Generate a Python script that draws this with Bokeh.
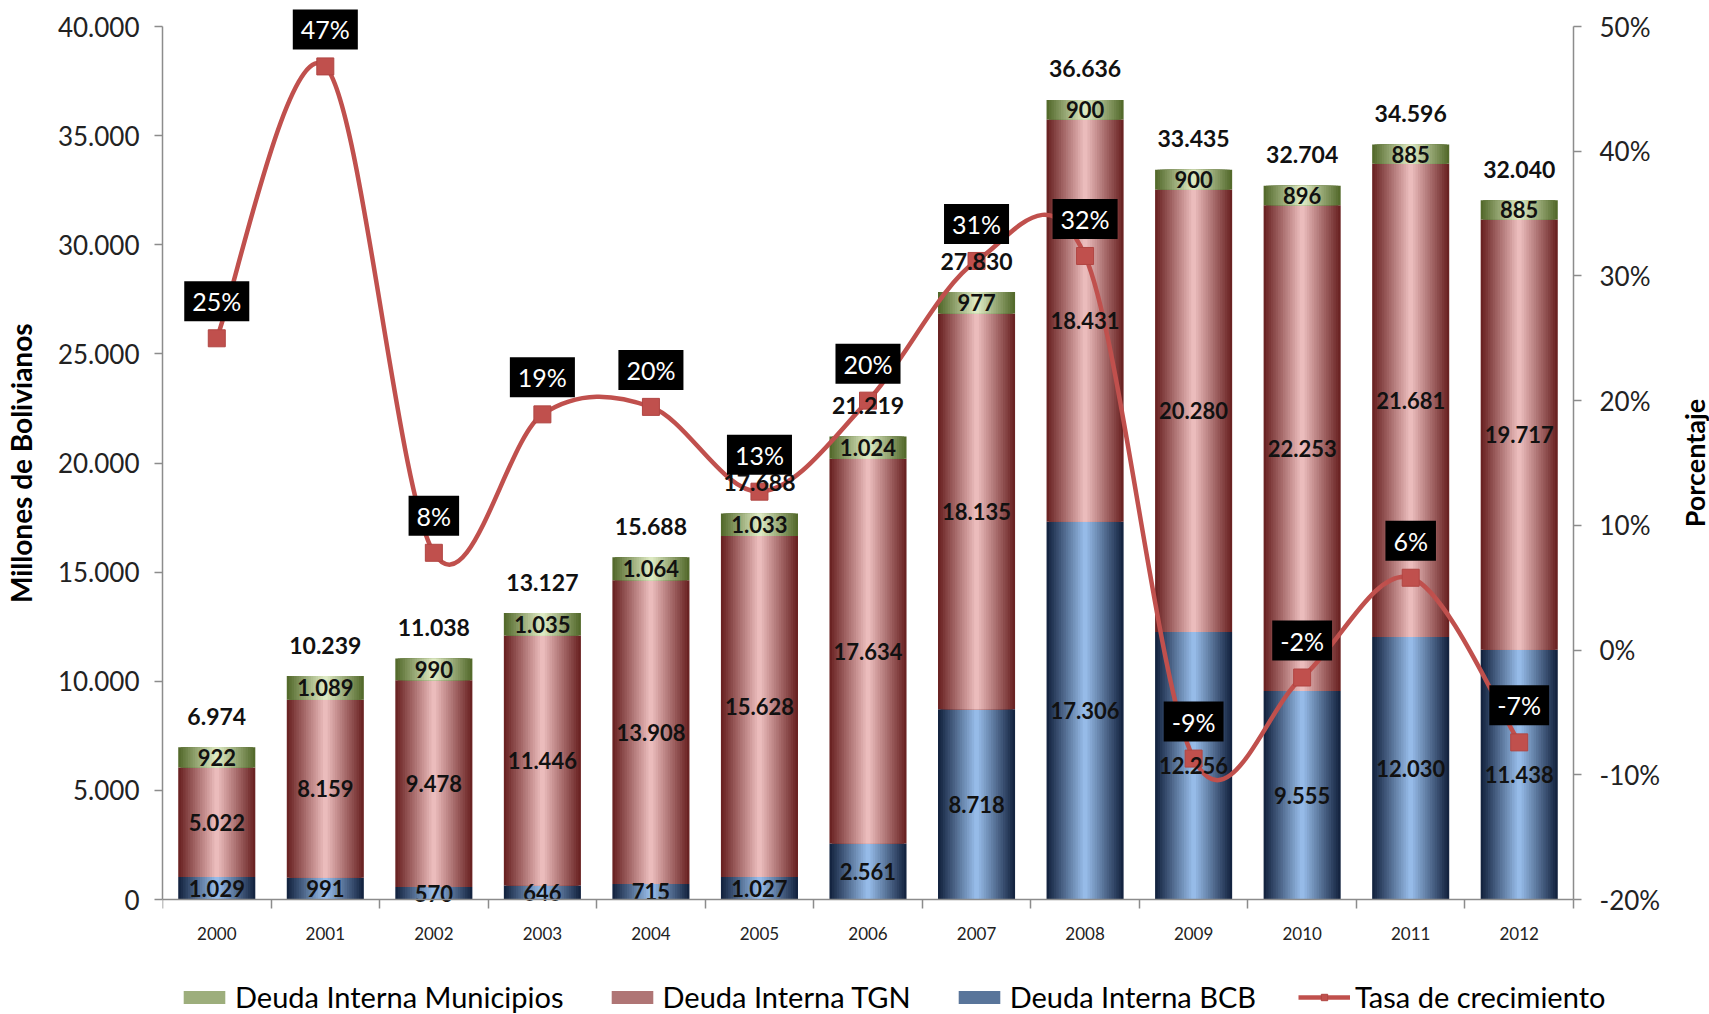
import numpy as np
from bokeh.plotting import figure
from bokeh.models import (Range1d, LinearAxis, FixedTicker, ColumnDataSource,
                          Legend, LegendItem)
from bokeh.embed import file_html
from bokeh.resources import INLINE
from bokeh.core.properties import value

# ---------------- data ----------------
years = ["2000", "2001", "2002", "2003", "2004", "2005", "2006",
         "2007", "2008", "2009", "2010", "2011", "2012"]
deuda_bcb = [1029, 991, 570, 646, 715, 1027, 2561, 8718, 17306, 12256, 9555, 12030, 11438]
deuda_tgn = [5022, 8159, 9478, 11446, 13908, 15628, 17634, 18135, 18431, 20280, 22253, 21681, 19717]
deuda_mun = [922, 1089, 990, 1035, 1064, 1033, 1024, 977, 900, 900, 896, 885, 885]
totales = [6974, 10239, 11038, 13127, 15688, 17688, 21219, 27830, 36636, 33435, 32704, 34596, 32040]
tasa = [25.0, 46.8, 7.8, 18.9, 19.5, 12.7, 20.0, 31.2, 31.6, -8.7, -2.2, 5.8, -7.4]

y_ticks = [0, 5000, 10000, 15000, 20000, 25000, 30000, 35000, 40000]
y_tick_labels = ["0", "5.000", "10.000", "15.000", "20.000", "25.000", "30.000", "35.000", "40.000"]
pct_ticks = [-20, -10, 0, 10, 20, 30, 40, 50]
pct_tick_labels = ["-20%", "-10%", "0%", "10%", "20%", "30%", "40%", "50%"]

name_mun = "Deuda Interna Municipios"
name_tgn = "Deuda Interna TGN"
name_bcb = "Deuda Interna BCB"
name_tasa = "Tasa de crecimiento"
y_title = "Millones de Bolivianos"
y2_title = "Porcentaje"

# ---------------- helpers ----------------
def fmt(v):
    return f"{v:,}".replace(",", ".")

def mix(c1, c2, t):
    a = [int(c1[i:i + 2], 16) for i in (1, 3, 5)]
    b = [int(c2[i:i + 2], 16) for i in (1, 3, 5)]
    return "#%02x%02x%02x" % tuple(int(round(a[i] + (b[i] - a[i]) * t)) for i in range(3))

FONT = "Lato"
AXIS_COL = "#8c8c8c"
LINE_COL = "#c0504d"
BAR_W = 0.71
N_LAYERS = 16
NBSP = "\u00a0"

# ---------------- geometry (pixels) ----------------
FIG_W = 1709
LEFT_PX = 161          # space left of the category area
CAT_AREA_PX = 1411     # width of the 13 categories
AXIS_PX = 873          # 0..40000 vertical span
HEAD_PX = 26
FOOT_PX = 115
FRAME_W = FIG_W - LEFT_PX
FRAME_H = HEAD_PX + AXIS_PX + FOOT_PX
Y_MIN, Y_MAX = 0, 40000
P_MIN, P_MAX = -20, 50
ky = (Y_MAX - Y_MIN) / AXIS_PX
kp = (P_MAX - P_MIN) / AXIS_PX
ncat = len(years)
kx = ncat / CAT_AREA_PX
X_LO, X_HI = -0.5, ncat - 0.5

x = list(range(ncat))
bcb = np.array(deuda_bcb)
tgn = np.array(deuda_tgn)
mun = np.array(deuda_mun)

src = ColumnDataSource(dict(
    x=x,
    b0=np.zeros(ncat), t0=bcb,
    b1=bcb, t1=bcb + tgn,
    b2=bcb + tgn, t2=bcb + tgn + mun,
    m0=bcb / 2, m1=bcb + tgn / 2, m2=bcb + tgn + mun / 2,
    l0=[fmt(v) for v in deuda_bcb],
    l1=[fmt(v) for v in deuda_tgn],
    l2=[fmt(v) for v in deuda_mun],
    tot=totales, ltot=[fmt(v) for v in totales],
    tasa=tasa, ltasa=[f"{round(v):d}%" for v in tasa],
))

p = figure(frame_width=FRAME_W, frame_height=FRAME_H,
           x_range=Range1d(X_LO, X_LO + FRAME_W * kx),
           y_range=Range1d(Y_MIN - FOOT_PX * ky, Y_MAX + HEAD_PX * ky),
           output_backend="svg", toolbar_location=None,
           min_border_left=LEFT_PX, min_border_right=0,
           min_border_top=0, min_border_bottom=0)
p.extra_y_ranges = {"pct": Range1d(P_MIN - FOOT_PX * kp, P_MAX + HEAD_PX * kp)}
p.outline_line_color = None
p.xgrid.grid_line_color = None
p.ygrid.grid_line_color = None
p.background_fill_color = "white"
p.border_fill_color = "white"

# ---------------- gradient stacked bars ----------------
series = [
    ("b0", "t0", "#142440", "#96bbe8"),   # BCB
    ("b1", "t1", "#6a2323", "#ebbcbc"),   # TGN
    ("b2", "t2", "#546a2c", "#dde9c2"),   # Municipios
]
legend_swatch = []
for bcol, tcol, dark, light in series:
    sw = None
    for k in range(N_LAYERS):
        w = BAR_W * (1 - k / N_LAYERS)
        c = mix(dark, light, k / (N_LAYERS - 1))
        r = p.vbar(x="x", width=w, bottom=bcol, top=tcol, source=src,
                   fill_color=c, line_color=None)
        if k == N_LAYERS // 2:
            sw = r
    legend_swatch.append(sw)

# ---------------- growth line (smoothed) ----------------
P = [(float(x[i]), float(tasa[i])) for i in range(ncat)]
x0, y0, x1, y1, cx0, cy0, cx1, cy1 = [], [], [], [], [], [], [], []
for i in range(ncat - 1):
    pm = P[i - 1] if i > 0 else P[i]
    pa = P[i]
    pb = P[i + 1]
    pn = P[i + 2] if i + 2 < ncat else P[i + 1]
    x0.append(pa[0]); y0.append(pa[1])
    x1.append(pb[0]); y1.append(pb[1])
    cx0.append(pa[0] + (pb[0] - pm[0]) / 6); cy0.append(pa[1] + (pb[1] - pm[1]) / 6)
    cx1.append(pb[0] - (pn[0] - pa[0]) / 6); cy1.append(pb[1] - (pn[1] - pa[1]) / 6)
bz = ColumnDataSource(dict(x0=x0, y0=y0, x1=x1, y1=y1, cx0=cx0, cy0=cy0, cx1=cx1, cy1=cy1))
p.bezier(x0="x0", y0="y0", x1="x1", y1="y1", cx0="cx0", cy0="cy0", cx1="cx1", cy1="cy1",
         source=bz, y_range_name="pct", line_color=LINE_COL, line_width=4.5)
sq = p.scatter(x="x", y="tasa", source=src, y_range_name="pct", marker="square",
               size=17, fill_color=LINE_COL, line_color="#b04542", line_width=1)
# legend stand-in for the curve (a single undefined point draws nothing on the chart)
line_proxy = p.line(x=[np.nan], y=[np.nan], line_color=LINE_COL, line_width=4.5)

# ---------------- labels ----------------
for mcol, lcol in (("m0", "l0"), ("m1", "l1"), ("m2", "l2")):
    p.text(x="x", y=mcol, text=lcol, source=src, text_align="center",
           text_baseline="middle", text_font=value(FONT), text_font_style="bold",
           text_font_size="22px", text_color="#111111")
p.text(x="x", y="tot", text="ltot", source=src, text_align="center",
       text_baseline="middle", y_offset=-31, text_font=value(FONT),
       text_font_style="bold", text_font_size="23px", text_color="#111111")
p.text(x="x", y="tasa", text="ltasa", source=src, y_range_name="pct",
       text_align="center", text_baseline="middle", y_offset=-37,
       text_font=value(FONT), text_font_size="25px", text_color="white",
       background_fill_color="black", padding=(8, 5))

# ---------------- axes ----------------
xa = p.xaxis[0]
xa.fixed_location = Y_MIN
xa.bounds = (X_LO, X_HI)
xa.ticker = FixedTicker(ticks=x, minor_ticks=[i - 0.5 for i in range(ncat + 1)])
xa.major_label_overrides = {i: years[i] for i in x}
xa.major_tick_line_color = None
xa.major_tick_out = 9
xa.major_tick_in = 0
xa.minor_tick_out = 9
xa.minor_tick_in = 0
xa.minor_tick_line_color = AXIS_COL
xa.minor_tick_line_width = 1.5
xa.axis_line_color = AXIS_COL
xa.axis_line_width = 1.5
xa.major_label_standoff = 18
xa.major_label_text_font = FONT
xa.major_label_text_font_size = "17px"
xa.major_label_text_color = "#222222"

ya = p.yaxis[0]
ya.ticker = FixedTicker(ticks=y_ticks, minor_ticks=[])
ya.bounds = (Y_MIN, Y_MAX)
ya.major_label_overrides = {t: l for t, l in zip(y_ticks, y_tick_labels)}
ya.major_tick_out = 8
ya.major_tick_in = 0
ya.major_tick_line_color = AXIS_COL
ya.major_tick_line_width = 1.5
ya.axis_line_color = AXIS_COL
ya.axis_line_width = 1.5
ya.major_label_standoff = 15
ya.major_label_text_font = FONT
ya.major_label_text_font_size = "26px"
ya.major_label_text_color = "#222222"
# leading no-break spaces keep the centred title over the 0..40.000 span
ya.axis_label = NBSP * 13 + y_title
ya.axis_label_text_font = FONT
ya.axis_label_text_font_style = "bold"
ya.axis_label_text_font_size = "28px"
ya.axis_label_text_color = "#000000"
ya.axis_label_standoff = 17

ra = LinearAxis(y_range_name="pct", ticker=FixedTicker(ticks=pct_ticks, minor_ticks=[]))
ra.fixed_location = X_HI
ra.bounds = (P_MIN, P_MAX)
ra.major_label_overrides = {t: l for t, l in zip(pct_ticks, pct_tick_labels)}
ra.major_tick_out = 8
ra.major_tick_in = 0
ra.major_tick_line_color = AXIS_COL
ra.major_tick_line_width = 1.5
ra.axis_line_color = AXIS_COL
ra.axis_line_width = 1.5
ra.major_label_standoff = 18
ra.major_label_text_font = FONT
ra.major_label_text_font_size = "26px"
ra.major_label_text_color = "#222222"
p.add_layout(ra, "right")

# right axis title, reading bottom to top, centred on the -20%..50% span
p.text(x=[X_HI + 121 * kx], y=[(P_MIN + P_MAX) / 2], text=[y2_title],
       y_range_name="pct", angle=np.pi / 2, text_align="center",
       text_baseline="middle", text_font=value(FONT), text_font_style="bold",
       text_font_size="27px", text_color="#000000")

# ---------------- legend ----------------
legend = Legend(items=[
    LegendItem(label=name_mun, renderers=[legend_swatch[2]]),
    LegendItem(label=name_tgn, renderers=[legend_swatch[1]]),
    LegendItem(label=name_bcb, renderers=[legend_swatch[0]]),
    LegendItem(label=name_tasa, renderers=[line_proxy, sq]),
], orientation="horizontal", location=(16, 0))
legend.spacing = 42
legend.label_standoff = 5
legend.glyph_width = 52
legend.glyph_height = 16
legend.padding = 0
legend.margin = 0
legend.border_line_color = None
legend.background_fill_alpha = 0
legend.label_text_font = FONT
legend.label_text_font_size = "29px"
legend.label_text_color = "#000000"
p.add_layout(legend, "center")

open("out.html", "w").write(file_html(p, INLINE))
